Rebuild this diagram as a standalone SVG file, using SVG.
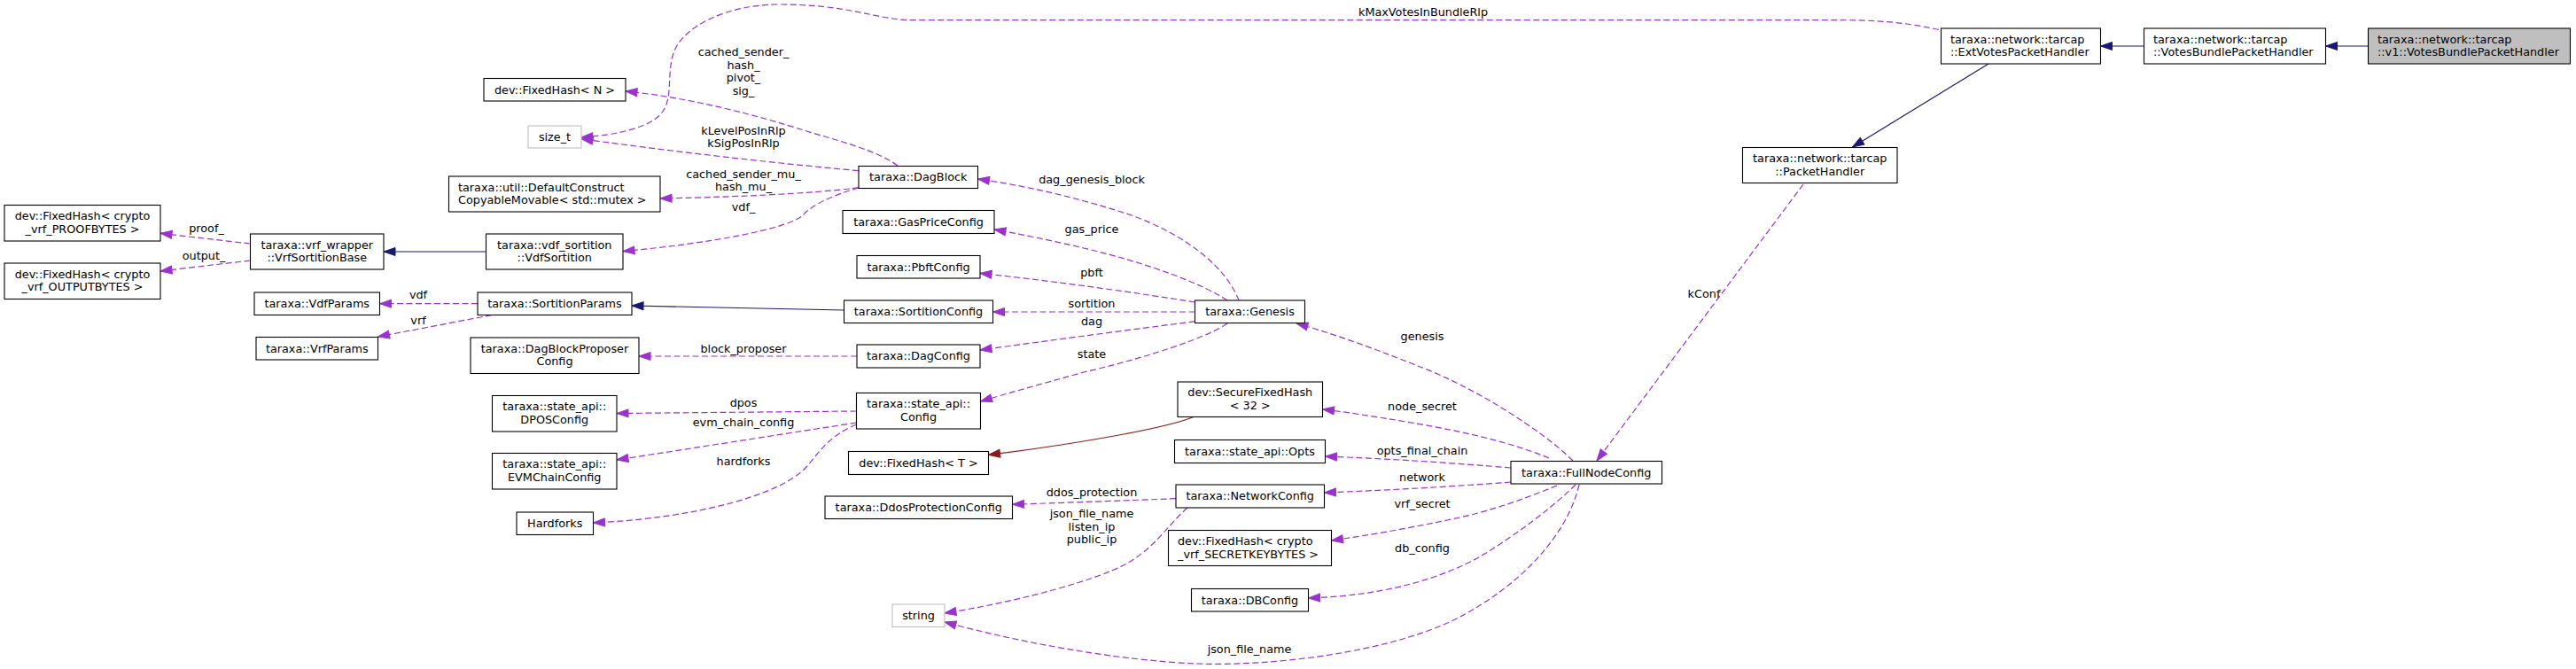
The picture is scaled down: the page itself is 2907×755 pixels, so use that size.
<svg xmlns="http://www.w3.org/2000/svg" width="2907" height="755" viewBox="0 0 2907 755">
<style>
rect{fill:#fff;stroke:#000;stroke-width:1.1}
rect.g{stroke:#bfbfbf}
rect.h{fill:#bfbfbf}
text{font-family:"DejaVu Sans","Liberation Sans",sans-serif;font-size:12.8px;fill:#000}
.c{text-anchor:middle}
.u{fill:none;stroke:#9a32cd;stroke-width:1.2;stroke-dasharray:7,3.5}
.i{fill:none;stroke:#191970;stroke-width:1.2}
.p{fill:none;stroke:#8b1a1a;stroke-width:1.2}
</style>
<defs>
<marker id="mu" markerUnits="userSpaceOnUse" markerWidth="14" markerHeight="10" refX="13" refY="5" orient="auto" overflow="visible"><path d="M0,0.5L13,5L0,9.5z" fill="#9a32cd" stroke="#9a32cd" stroke-width="1"/></marker>
<marker id="mi" markerUnits="userSpaceOnUse" markerWidth="14" markerHeight="10" refX="13" refY="5" orient="auto" overflow="visible"><path d="M0,0.5L13,5L0,9.5z" fill="#191970" stroke="#191970" stroke-width="1"/></marker>
<marker id="mp" markerUnits="userSpaceOnUse" markerWidth="14" markerHeight="10" refX="13" refY="5" orient="auto" overflow="visible"><path d="M0,0.5L13,5L0,9.5z" fill="#8b1a1a" stroke="#8b1a1a" stroke-width="1"/></marker>
</defs>
<rect x="0" y="0" width="2907" height="755" style="fill:#fff;stroke:none"/>
<g id="edges">
<path class="i" marker-end="url(#mi)" d="M2672.5,52L2624.5,52"/>
<path class="i" marker-end="url(#mi)" d="M2419.5,52L2370.5,52"/>
<path class="i" marker-end="url(#mi)" d="M2244,72L2090.5,166"/>
<path class="u" marker-end="url(#mu)" d="M2188,33.5C2140,22.7 2100,22.7 2072,22.7L1030,22.7C990,22.7 960,5 880,5C820,5 770,30 760,60C752,85 760,110 747,127C735,143 700,152 656,155"/>
<text class="c" x="1606" y="18">kMaxVotesInBundleRlp</text>
<path class="u" marker-end="url(#mu)" d="M2035,208L1802,520"/>
<text class="c" x="1923" y="336">kConf</text>
<path class="u" marker-end="url(#mu)" d="M1775,520C1740,485 1660,435 1600,413C1560,397 1510,378 1463,365"/>
<text class="c" x="1605" y="383.5">genesis</text>
<path class="u" marker-end="url(#mu)" d="M1748,517C1700,497 1640,485 1587,476C1550,470 1520,465 1492.5,462"/>
<text class="c" x="1605" y="463.3">node_secret</text>
<path class="u" marker-end="url(#mu)" d="M1705,528Q1600,519 1495.5,515"/>
<text class="c" x="1605" y="512.7">opts_final_chain</text>
<path class="u" marker-end="url(#mu)" d="M1705,544Q1600,552 1494.5,556"/>
<text class="c" x="1605" y="542.7">network</text>
<path class="u" marker-end="url(#mu)" d="M1757,548C1720,563 1680,578 1633,587C1590,596 1545,604 1502.5,610"/>
<text class="c" x="1605" y="572.7">vrf_secret</text>
<path class="u" marker-end="url(#mu)" d="M1778,547C1755,570 1710,605 1667,630C1620,655 1560,672 1476.5,675"/>
<text class="c" x="1605" y="623.3">db_config</text>
<path class="u" marker-end="url(#mu)" d="M1782,547C1770,600 1720,660 1640,700C1560,738 1430,752 1350,749C1260,745 1150,725 1066,702"/>
<text class="c" x="1410" y="736.7">json_file_name</text>
<path class="u" marker-end="url(#mu)" d="M1327,562.7Q1240,566 1142.5,569.3"/>
<text class="c" x="1232" y="560">ddos_protection</text>
<path class="u" marker-end="url(#mu)" d="M1340,573C1315,595 1300,625 1257,643C1210,663 1130,682 1066,692"/>
<text class="c" x="1232" y="584">json_file_name</text>
<text class="c" x="1232" y="598.5">listen_ip</text>
<text class="c" x="1232" y="613">public_ip</text>
<path class="p" marker-end="url(#mp)" d="M1346.4,470.7C1310,485 1200,503 1115.5,513.3"/>
<path class="u" marker-end="url(#mu)" d="M1398,339C1385,305 1345,268 1277,243C1220,224 1160,210 1103.5,202"/>
<text class="c" x="1232" y="207.3">dag_genesis_block</text>
<path class="u" marker-end="url(#mu)" d="M1385,339C1360,322 1300,298 1223,280C1190,272 1150,264 1122,259"/>
<text class="c" x="1232" y="263.3">gas_price</text>
<path class="u" marker-end="url(#mu)" d="M1348.5,341Q1230,322 1106,308.3"/>
<text class="c" x="1232" y="311.7">pbft</text>
<path class="u" marker-end="url(#mu)" d="M1348.5,352L1120.5,352"/>
<text class="c" x="1232" y="347.3">sortition</text>
<path class="u" marker-end="url(#mu)" d="M1348.5,362.7Q1230,378 1106,395"/>
<text class="c" x="1232" y="367.3">dag</text>
<path class="u" marker-end="url(#mu)" d="M1385,365C1365,380 1290,405 1223,420C1180,432 1140,443 1106.5,453"/>
<text class="c" x="1232" y="404.3">state</text>
<path class="i" marker-end="url(#mi)" d="M952.5,350L713,345"/>
<path class="u" marker-end="url(#mu)" d="M539,342.7L428.5,342.7"/>
<text class="c" x="472" y="337">vdf</text>
<path class="u" marker-end="url(#mu)" d="M555,355.5L426.5,380"/>
<text class="c" x="472" y="366">vrf</text>
<path class="i" marker-end="url(#mi)" d="M548.5,284L433,284"/>
<path class="u" marker-end="url(#mu)" d="M282.5,275L181,263.3"/>
<text class="c" x="233" y="262">proof_</text>
<path class="u" marker-end="url(#mu)" d="M282.5,294L181,306"/>
<text class="c" x="230" y="293">output_</text>
<path class="u" marker-end="url(#mu)" d="M1013,187C990,170 950,160 907,147C860,132 780,110 706,103"/>
<text class="c" x="839" y="63.3">cached_sender_</text>
<text class="c" x="839" y="77.7">hash_</text>
<text class="c" x="839" y="92">pivot_</text>
<text class="c" x="839" y="106.5">sig_</text>
<path class="u" marker-end="url(#mu)" d="M969,192.7Q810,178 656,156.7"/>
<text class="c" x="839" y="151.7">kLevelPosInRlp</text>
<text class="c" x="839" y="166.3">kSigPosInRlp</text>
<path class="u" marker-end="url(#mu)" d="M969,211.7C930,217 850,222 745,224"/>
<text class="c" x="839" y="200.7">cached_sender_mu_</text>
<text class="c" x="839" y="215">hash_mu_</text>
<path class="u" marker-end="url(#mu)" d="M969,212C940,220 915,232 906,243C890,258 800,275 703,283.5"/>
<text class="c" x="839" y="238">vdf_</text>
<path class="u" marker-end="url(#mu)" d="M967,402L721,402"/>
<text class="c" x="839" y="398">block_proposer</text>
<path class="u" marker-end="url(#mu)" d="M966.5,464L696,466.5"/>
<text class="c" x="839" y="459">dpos</text>
<path class="u" marker-end="url(#mu)" d="M966.5,477L696,519"/>
<text class="c" x="839" y="481">evm_chain_config</text>
<path class="u" marker-end="url(#mu)" d="M966.5,479C935,492 925,510 910,527C880,560 780,585 669.5,590"/>
<text class="c" x="839" y="525">hardforks</text>
</g>
<g id="n_v1"><rect class="h" x="2672.5" y="32" width="228" height="40"/><text x="2683" y="48.5">taraxa::network::tarcap</text><text x="2683" y="63">::v1::VotesBundlePacketHandler</text></g>
<g id="n_votesbundle"><rect x="2419.5" y="32" width="205" height="40"/><text x="2430" y="48.5">taraxa::network::tarcap</text><text x="2430" y="63">::VotesBundlePacketHandler</text></g>
<g id="n_extvotes"><rect x="2190.5" y="32" width="180" height="40"/><text x="2201" y="48.5">taraxa::network::tarcap</text><text x="2201" y="63">::ExtVotesPacketHandler</text></g>
<g id="n_packethandler"><rect x="1966.5" y="166.5" width="174.5" height="40"/><text class="c" x="2053.75" y="183">taraxa::network::tarcap</text><text class="c" x="2053.75" y="197.5">::PacketHandler</text></g>
<g id="n_fullnodeconfig"><rect x="1705" y="520.5" width="170.5" height="25.5"/><text class="c" x="1790.25" y="537.5">taraxa::FullNodeConfig</text></g>
<g id="n_genesis"><rect x="1348.5" y="339" width="124" height="25.5"/><text class="c" x="1410.5" y="356">taraxa::Genesis</text></g>
<g id="n_securefixedhash"><rect x="1329" y="431" width="163.5" height="39.5"/><text class="c" x="1410.75" y="447.3">dev::SecureFixedHash</text><text class="c" x="1410.75" y="461.7">&lt; 32 &gt;</text></g>
<g id="n_opts"><rect x="1325.5" y="496.5" width="170" height="26"/><text class="c" x="1410.5" y="513.5">taraxa::state_api::Opts</text></g>
<g id="n_networkconfig"><rect x="1327" y="547" width="167.5" height="26"/><text class="c" x="1410.75" y="564">taraxa::NetworkConfig</text></g>
<g id="n_secretkey"><rect x="1318.5" y="598.5" width="184" height="40"/><text x="1329" y="615">dev::FixedHash&lt; crypto</text><text x="1329" y="629.5">_vrf_SECRETKEYBYTES &gt;</text></g>
<g id="n_dbconfig"><rect x="1344.5" y="664.5" width="132" height="25.5"/><text class="c" x="1410.5" y="681.5">taraxa::DBConfig</text></g>
<g id="n_string"><rect class="g" x="1007" y="682" width="59" height="25.5"/><text class="c" x="1036.5" y="699">string</text></g>
<g id="n_ddos"><rect x="931" y="560" width="211.5" height="25.5"/><text class="c" x="1036.75" y="577">taraxa::DdosProtectionConfig</text></g>
<g id="n_fixedhash_t"><rect x="957.5" y="509.5" width="158" height="26"/><text class="c" x="1036.5" y="526.5">dev::FixedHash&lt; T &gt;</text></g>
<g id="n_stateconfig"><rect x="966.5" y="443.5" width="140" height="40.5"/><text class="c" x="1036.5" y="460">taraxa::state_api::</text><text class="c" x="1036.5" y="474.5">Config</text></g>
<g id="n_dagconfig"><rect x="967" y="389" width="139" height="26"/><text class="c" x="1036.5" y="406">taraxa::DagConfig</text></g>
<g id="n_sortitionconfig"><rect x="952.5" y="339" width="168" height="25.5"/><text class="c" x="1036.5" y="356">taraxa::SortitionConfig</text></g>
<g id="n_pbftconfig"><rect x="967" y="288.5" width="139" height="25.5"/><text class="c" x="1036.5" y="305.5">taraxa::PbftConfig</text></g>
<g id="n_gaspriceconfig"><rect x="951" y="237.5" width="171" height="26"/><text class="c" x="1036.5" y="254.5">taraxa::GasPriceConfig</text></g>
<g id="n_dagblock"><rect x="969" y="187.5" width="134.5" height="25"/><text class="c" x="1036.25" y="204">taraxa::DagBlock</text></g>
<g id="n_fixedhash_n"><rect x="546" y="88.5" width="160" height="25.5"/><text class="c" x="626" y="105.5">dev::FixedHash&lt; N &gt;</text></g>
<g id="n_size_t"><rect class="g" x="596" y="142" width="60" height="25"/><text class="c" x="626" y="159">size_t</text></g>
<g id="n_mutex"><rect x="506.5" y="199" width="238.5" height="40"/><text x="517" y="215.5">taraxa::util::DefaultConstruct</text><text x="517" y="230">CopyableMovable&lt; std::mutex &gt;</text></g>
<g id="n_vdfsortition"><rect x="548.5" y="264" width="154.5" height="40"/><text class="c" x="625.75" y="280.5">taraxa::vdf_sortition</text><text class="c" x="625.75" y="295">::VdfSortition</text></g>
<g id="n_vrfsortitionbase"><rect x="282.5" y="264" width="150.5" height="40"/><text class="c" x="357.75" y="280.5">taraxa::vrf_wrapper</text><text class="c" x="357.75" y="295">::VrfSortitionBase</text></g>
<g id="n_proof"><rect x="5" y="231.5" width="176" height="40.5"/><text class="c" x="93" y="248">dev::FixedHash&lt; crypto</text><text class="c" x="93" y="262.5">_vrf_PROOFBYTES &gt;</text></g>
<g id="n_output"><rect x="5" y="297" width="176" height="40.5"/><text class="c" x="93" y="313.5">dev::FixedHash&lt; crypto</text><text class="c" x="93" y="328">_vrf_OUTPUTBYTES &gt;</text></g>
<g id="n_vdfparams"><rect x="287" y="330" width="141.5" height="25.5"/><text class="c" x="357.75" y="347">taraxa::VdfParams</text></g>
<g id="n_sortitionparams"><rect x="539" y="330" width="174" height="25.5"/><text class="c" x="626" y="347">taraxa::SortitionParams</text></g>
<g id="n_vrfparams"><rect x="289" y="380.5" width="137.5" height="25.5"/><text class="c" x="357.75" y="397.5">taraxa::VrfParams</text></g>
<g id="n_proposer"><rect x="531" y="381" width="190" height="40.5"/><text class="c" x="626" y="397.5">taraxa::DagBlockProposer</text><text class="c" x="626" y="412">Config</text></g>
<g id="n_dpos"><rect x="555.5" y="446.5" width="140.5" height="40.5"/><text class="c" x="625.75" y="463">taraxa::state_api::</text><text class="c" x="625.75" y="477.5">DPOSConfig</text></g>
<g id="n_evm"><rect x="555.5" y="511.5" width="140.5" height="40.5"/><text class="c" x="625.75" y="528">taraxa::state_api::</text><text class="c" x="625.75" y="542.5">EVMChainConfig</text></g>
<g id="n_hardforks"><rect x="583" y="578" width="86.5" height="25.5"/><text class="c" x="626.25" y="595">Hardforks</text></g>
</svg>
